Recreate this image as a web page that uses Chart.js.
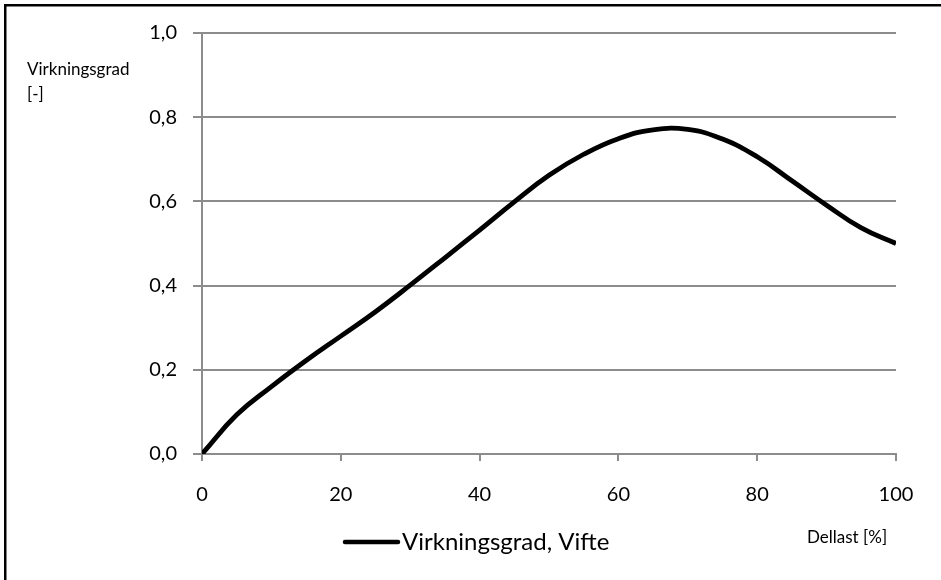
<!DOCTYPE html>
<html>
<head>
<meta charset="utf-8">
<script src="https://cdn.jsdelivr.net/npm/chart.js@4/dist/chart.umd.min.js"></script>
<style>
  html, body { margin: 0; padding: 0; background: #ffffff; }
  canvas { display: block; }
</style>
</head>
<body>
<canvas id="chart" width="941" height="580"></canvas>
<script>
// Fan efficiency versus part load
const partLoad = [0, 5, 10, 15, 20, 25, 30, 35, 40, 45, 50, 55, 60, 65, 70, 75, 80, 85, 90, 95, 100];
const efficiency = [0, 0.093, 0.160, 0.222, 0.280, 0.338, 0.401, 0.466, 0.532, 0.599, 0.662, 0.712, 0.749, 0.770, 0.771, 0.748, 0.706, 0.649, 0.591, 0.537, 0.500];
const xTickLabels = ['0', '20', '40', '60', '80', '100'];
const yTickLabels = ['0,0', '0,2', '0,4', '0,6', '0,8', '1,0'];
const seriesName = 'Virkningsgrad, Vifte';
const yTitleLines = ['Virkningsgrad', '[-]'];
const xTitle = 'Dellast [%]';

const FONT = 'Lato, "Open Sans", sans-serif';
const GRID = '#8c8c8c';

// Frame, axis titles and legend drawn on top of the chart
const decorations = {
  id: 'decorations',
  afterDraw(chart) {
    const ctx = chart.ctx;
    ctx.save();
    ctx.fillStyle = '#000000';
    ctx.fillRect(4, 4, 2.5, chart.height);
    ctx.fillRect(4, 4, chart.width, 2.5);

    ctx.fillStyle = '#000000';
    ctx.textAlign = 'left';
    ctx.textBaseline = 'alphabetic';
    ctx.font = '17px ' + FONT;
    ctx.fillText(yTitleLines[0], 27, 75);
    ctx.fillText(yTitleLines[1], 27, 100);

    ctx.textBaseline = 'middle';
    ctx.fillText(xTitle, 807, 538);

    ctx.strokeStyle = '#000000';
    ctx.lineWidth = 4.5;
    ctx.lineCap = 'round';
    ctx.beginPath();
    ctx.moveTo(345, 542);
    ctx.lineTo(398, 542);
    ctx.stroke();
    ctx.font = '24px ' + FONT;
    ctx.textBaseline = 'alphabetic';
    ctx.fillText(seriesName, 402, 550);
    ctx.restore();
  }
};

new Chart(document.getElementById('chart'), {
  type: 'line',
  data: {
    datasets: [{
      label: seriesName,
      data: partLoad.map((x, i) => ({ x: x, y: efficiency[i] })),
      borderColor: '#000000',
      borderWidth: 4.8,
      pointRadius: 0,
      tension: 0.45,
      fill: false
    }]
  },
  options: {
    responsive: false,
    animation: false,
    layout: { padding: { left: 0, top: 33, right: 45, bottom: 0 } },
    plugins: {
      legend: { display: false },
      tooltip: { enabled: false }
    },
    scales: {
      x: {
        type: 'linear',
        min: 0,
        max: 100,
        afterFit(scale) { scale.height = 126; },
        ticks: {
          stepSize: 20,
          padding: 22,
          color: '#000000',
          font: { family: FONT, size: 20 },
          maxRotation: 0,
          callback: (v, i) => xTickLabels[i]
        },
        grid: { drawOnChartArea: false, drawTicks: true, tickLength: 7, color: GRID, lineWidth: 2 },
        border: { display: true, color: GRID, width: 2 }
      },
      y: {
        min: 0,
        max: 1,
        afterFit(scale) { scale.width = 202; },
        ticks: {
          stepSize: 0.2,
          padding: 16,
          color: '#000000',
          font: { family: FONT, size: 20 },
          callback: (v, i) => yTickLabels[i]
        },
        grid: { drawOnChartArea: true, drawTicks: true, tickLength: 9, color: GRID, lineWidth: 2 },
        border: { display: true, color: GRID, width: 2 }
      }
    }
  },
  plugins: [decorations]
});
</script>
</body>
</html>
